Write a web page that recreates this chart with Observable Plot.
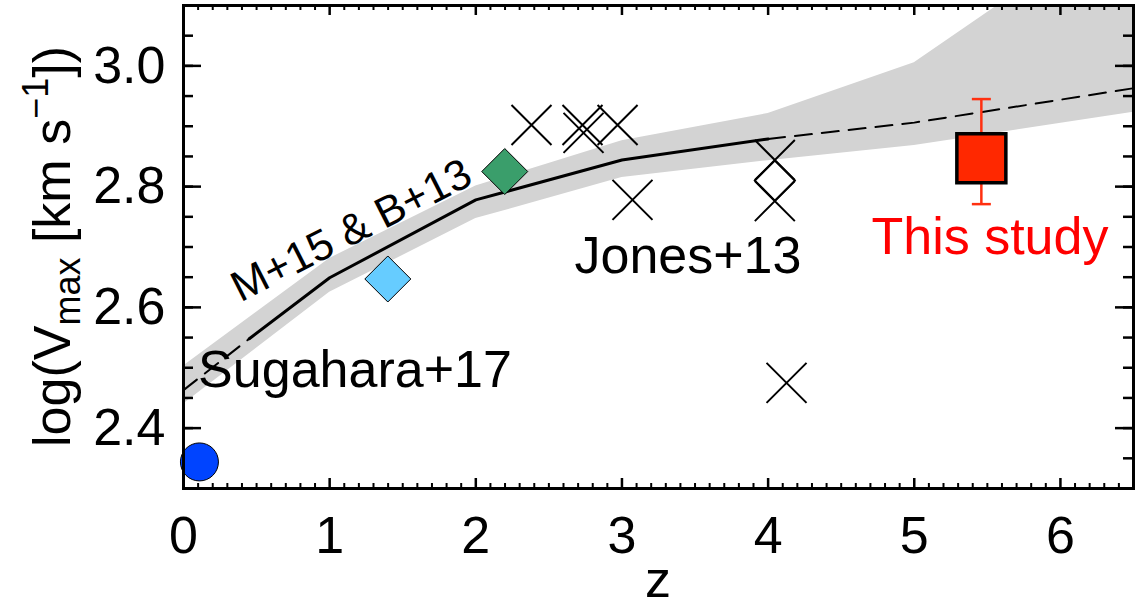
<!DOCTYPE html>
<html><head><meta charset="utf-8">
<script src="https://cdn.jsdelivr.net/npm/d3@7"></script>
<script src="https://cdn.jsdelivr.net/npm/@observablehq/plot@0.6"></script>
<style>body{margin:0;background:#fff}svg{display:block}</style>
</head><body><div id="chart"></div>
<script>
// ---- data ----
// model curve (M+15 & B+13): solid between 0.45 and 4, dashed outside
const modelZ = [0, 0.45, 1, 2, 3, 4, 5, 6.5];
const modelV = [2.463, 2.548, 2.649, 2.778, 2.844, 2.879, 2.906, 2.963];
// grey band around the model
const bandZ  = [0, 1, 2, 3, 4, 5, 6.5];
const bandLo = [2.440, 2.625, 2.747, 2.815, 2.843, 2.868, 2.923];
const bandHi = [2.503, 2.681, 2.801, 2.876, 2.921, 3.005, 3.255];
// Sugahara+17 (filled circle)
const sugZ = [0.109];
const sugV = [2.344];
// filled diamonds
const diaZ = [1.398, 2.198];
const diaV = [2.647, 2.825];
const diaFill = ["#66ccff", "#3a9e6b"];
// Jones+13 crosses and open diamond
const jonesZ = [2.381, 2.730, 2.737, 2.970, 3.072, 4.046, 4.046, 4.126];
const jonesV = [2.902, 2.902, 2.889, 2.902, 2.778, 2.844, 2.776, 2.475];
const jonesDiaZ = [4.046];
const jonesDiaV = [2.810];
// This study
const studyZ = [5.459];
const studyV = [2.847];
const studyLo = [2.771];
const studyHi = [2.945];
// ticks
const xTicks = [0, 1, 2, 3, 4, 5, 6];
const xTickLabels = ["0", "1", "2", "3", "4", "5", "6"];
const yTicks = [2.4, 2.6, 2.8, 3.0];
const yTickLabels = ["2.4", "2.6", "2.8", "3.0"];
const xMinor = d3.range(1, 65).map(i => i / 10).filter(v => Math.abs(v - Math.round(v)) > 1e-6);
const yMinor = d3.range(47, 62).map(i => i * 0.05);
// text labels
const labelText = ["M+15 & B+13", "Sugahara+17", "Jones+13", "This study"];
const labelZ = [0.390, 0.100, 2.675, 4.707];
const labelV = [2.608, 2.468, 2.657, 2.689];
const labelColor = ["black", "black", "black", "#ff0000"];
const labelSize = [43, 52, 52, 52];
const labelRotate = [-27, 0, 0, 0];

// ---- tables ----
const model = modelZ.map((z, i) => ({z, v: modelV[i]}));
const solid = model.filter(d => d.z >= 0.45 && d.z <= 4);
const dashA = model.filter(d => d.z <= 0.45);
const dashB = model.filter(d => d.z >= 4);
const band = bandZ.map((z, i) => ({z, lo: bandLo[i], hi: bandHi[i]}));
const sug = sugZ.map((z, i) => ({z, v: sugV[i]}));
const dia = diaZ.map((z, i) => ({z, v: diaV[i], fill: diaFill[i]}));
const jones = jonesZ.map((z, i) => ({z, v: jonesV[i]}));
const jonesDia = jonesDiaZ.map((z, i) => ({z, v: jonesDiaV[i]}));
const study = studyZ.map((z, i) => ({z, v: studyV[i], lo: studyLo[i], hi: studyHi[i]}));
const caps = study.flatMap(d => [{z: d.z, v: d.lo}, {z: d.z, v: d.hi}]);
const labels = labelText.map((t, i) => ({t, z: labelZ[i], v: labelV[i], c: labelColor[i], s: labelSize[i], r: labelRotate[i]}));

// ---- custom symbols (r = half extent) ----
const half = s => Math.sqrt(s / Math.PI);
const symDiamond = {draw(c, s) {const r = half(s); c.moveTo(0, -r); c.lineTo(r, 0); c.lineTo(0, r); c.lineTo(-r, 0); c.closePath();}};
const symTimes = {draw(c, s) {const r = half(s); c.moveTo(-r, -r); c.lineTo(r, r); c.moveTo(-r, r); c.lineTo(r, -r);}};
const symSquare = {draw(c, s) {const r = half(s); c.moveTo(-r, -r); c.lineTo(r, -r); c.lineTo(r, r); c.lineTo(-r, r); c.closePath();}};
const symBar = {draw(c, s) {const r = half(s); c.moveTo(-r, 0); c.lineTo(r, 0);}};

const font = "'Liberation Sans', Arial, Helvetica, sans-serif";
const W = 1138, H = 608, ML = 183, MR = 5, MT = 5, MB = 120;
const PW = W - ML - MR, PH = H - MT - MB;

const marks = [
  Plot.areaY(band, {x: "z", y1: "lo", y2: "hi", fill: "#d3d3d3", clip: true}),
  Plot.line(solid, {x: "z", y: "v", stroke: "black", strokeWidth: 3}),
  Plot.line(dashA, {x: "z", y: "v", stroke: "black", strokeWidth: 2, strokeDasharray: "17,10"}),
  Plot.line(dashB, {x: "z", y: "v", stroke: "black", strokeWidth: 2, strokeDasharray: "17,10", clip: true}),
  // ticks (inward)
  Plot.tickY(yTicks, {y: d => d, stroke: "black", strokeWidth: 2.5, insetRight: PW - 18}),
  Plot.tickY(yTicks, {y: d => d, stroke: "black", strokeWidth: 2.5, insetLeft: PW - 18}),
  Plot.tickY(yMinor, {y: d => d, stroke: "black", strokeWidth: 2.5, insetRight: PW - 10}),
  Plot.tickY(yMinor, {y: d => d, stroke: "black", strokeWidth: 2.5, insetLeft: PW - 10}),
  Plot.tickX(xTicks, {x: d => d, stroke: "black", strokeWidth: 2.5, insetTop: PH - 10}),
  Plot.tickX(xTicks, {x: d => d, stroke: "black", strokeWidth: 2.5, insetBottom: PH - 10}),
  Plot.tickX(xMinor, {x: d => d, stroke: "black", strokeWidth: 2, insetTop: PH - 5}),
  Plot.tickX(xMinor, {x: d => d, stroke: "black", strokeWidth: 2, insetBottom: PH - 5}),
  // data points
  Plot.dot(sug, {x: "z", y: "v", r: 19, fill: "#0044ff", stroke: "black", strokeWidth: 1}),
  Plot.dot(dia, {x: "z", y: "v", r: 23, symbol: symDiamond, fill: "fill", stroke: "black", strokeWidth: 1}),
  Plot.dot(jones, {x: "z", y: "v", r: 20, symbol: symTimes, fill: "none", stroke: "black", strokeWidth: 2}),
  Plot.dot(jonesDia, {x: "z", y: "v", r: 20, symbol: symDiamond, fill: "none", stroke: "black", strokeWidth: 2}),
  Plot.ruleX(study, {x: "z", y1: "lo", y2: "hi", stroke: "#ff3010", strokeWidth: 2.5}),
  Plot.dot(caps, {x: "z", y: "v", r: 9.5, symbol: symBar, fill: "none", stroke: "#ff3010", strokeWidth: 2.5}),
  Plot.dot(study, {x: "z", y: "v", r: 24.5, symbol: symSquare, fill: "#ff2800", stroke: "black", strokeWidth: 3.5}),
  // labels
  ...labels.map(d => Plot.text([d], {x: "z", y: "v", text: "t", fill: d.c, fontSize: d.s, rotate: d.r,
      textAnchor: "start", lineAnchor: "bottom", fontFamily: font})),
  Plot.frame({stroke: "black", strokeWidth: 3}),
  Plot.axisX(xTicks, {tickSize: 0, tickPadding: 28, fontSize: 52, fontFamily: font, label: null, fill: "black",
      tickFormat: (d, i) => xTickLabels[i]}),
  Plot.axisY(yTicks, {tickSize: 0, tickPadding: 18, fontSize: 52, fontFamily: font, label: null, fill: "black",
      tickFormat: (d, i) => yTickLabels[i]})
];

const plot = Plot.plot({
  width: W, height: H,
  marginLeft: ML, marginRight: MR, marginTop: MT, marginBottom: MB,
  x: {domain: [0, 6.5]},
  y: {domain: [2.3, 3.1]},
  style: {fontFamily: font, background: "white", color: "black"},
  marks
});

// axis titles (with subscript / superscript)
const svg = d3.select(plot);
svg.append("text")
  .attr("x", ML + PW / 2).attr("y", 597)
  .attr("text-anchor", "middle").attr("font-size", 52).attr("font-family", font).attr("fill", "black")
  .text("z");
const yt = svg.append("text")
  .attr("transform", `translate(70,${MT + PH / 2}) rotate(-90)`)
  .attr("text-anchor", "middle").attr("font-size", 52).attr("font-family", font).attr("fill", "black");
yt.append("tspan").text("log(V");
yt.append("tspan").attr("font-size", 36).attr("dy", 10).text("max");
yt.append("tspan").attr("dy", -10).text(" [km s");
yt.append("tspan").attr("font-size", 36).attr("dy", -22).text("\u22121");
yt.append("tspan").attr("dy", 22).text("])");

document.getElementById("chart").appendChild(plot);
</script>
</body></html>
